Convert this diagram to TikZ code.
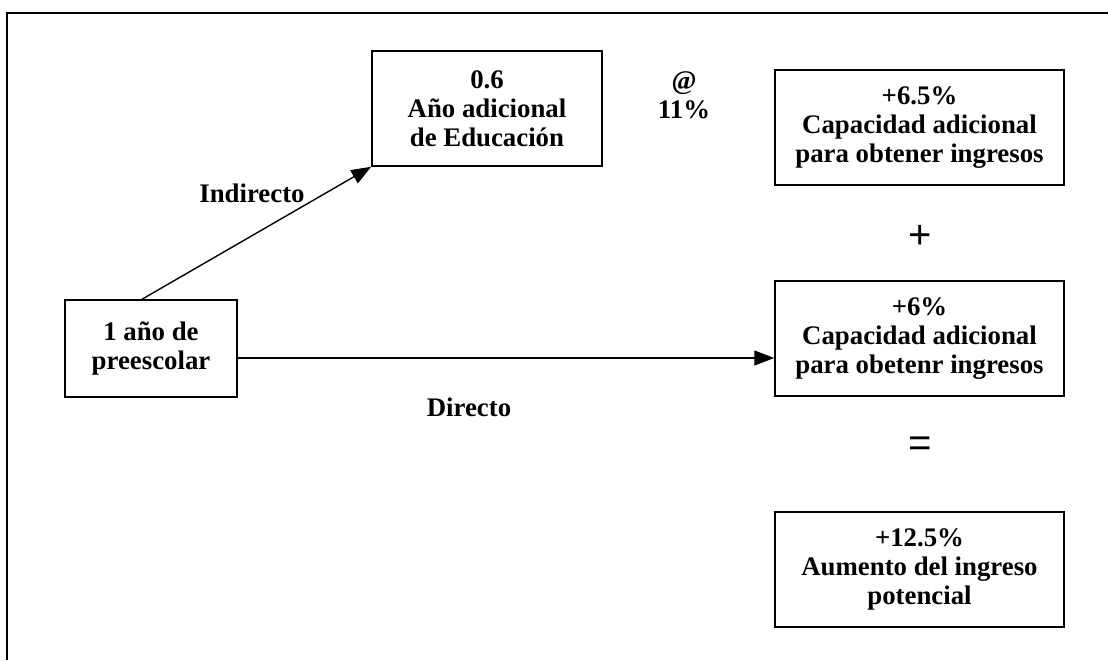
\documentclass[tikz,border=0pt]{standalone}
\usepackage{fontspec}
\setmainfont{Liberation Serif}
\newfontfamily\arialfont{Liberation Sans}
\usetikzlibrary{arrows.meta}
\begin{document}
\begin{tikzpicture}[x=0.5pt,y=-0.5pt,
  boxnode/.style={draw=black, line width=0.75pt, inner sep=0pt, align=center,
    font=\fontsize{13.4}{14.6}\selectfont\bfseries},
  lbl/.style={inner sep=0pt, align=center, font=\fontsize{13.4}{14.6}\selectfont\bfseries},
  opsym/.style={inner sep=0pt, font=\arialfont\fontsize{20}{22}\selectfont},
  arr/.style={line width=0.7pt, -{Triangle[length=10pt,width=7.5pt]}}]
\useasboundingbox (0,0) rectangle (1108,660);
\draw[line width=1pt] (7,660) -- (7,13) -- (1108,13);

\node[boxnode, minimum width=86pt, minimum height=48.5pt] (pre) at (151,348.5) {1 año de\\preescolar};
\node[boxnode, minimum width=115pt, minimum height=57.5pt] (edu) at (487,108.5) {0.6\\Año adicional\\de Educación};
\node[boxnode, minimum width=144.5pt, minimum height=57.5pt] (b1) at (919.5,127.5) {+6.5\%\\Capacidad adicional\\para obtener ingresos};
\node[boxnode, minimum width=144.5pt, minimum height=57.5pt] (b2) at (919.5,338.5) {+6\%\\Capacidad adicional\\para obetenr ingresos};
\node[boxnode, minimum width=144.5pt, minimum height=57.5pt] (b3) at (919.5,569.5) {+12.5\%\\Aumento del ingreso\\potencial};

\node[lbl] (at) at (684,95) {@\\11\%};
\node[lbl] (ind) at (252,193) {Indirecto};
\node[lbl] (dir) at (469,407) {Directo};
\node[opsym] (plus) at (920,237) {+};
\node[opsym] (eq) at (920,447) {=};

\coordinate (dy) at (0,358);
\draw[arr] ([xshift=-4.5pt]pre.north) -- (edu.south west);
\draw[arr] (pre.east |- dy) -- (b2.west |- dy);
\end{tikzpicture}
\end{document}
